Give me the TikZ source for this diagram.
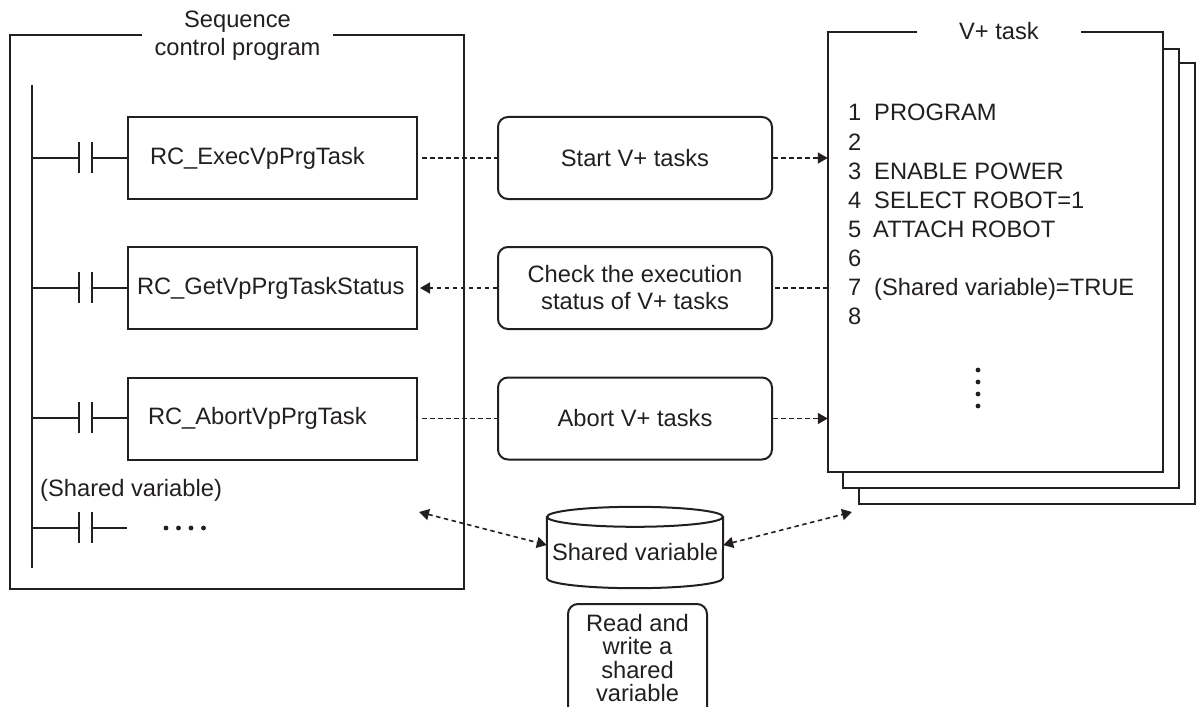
\documentclass[tikz,border=0pt]{standalone}
\usepackage{fontspec}
\setmainfont{Liberation Sans}
\usetikzlibrary{arrows.meta}
\definecolor{ink}{RGB}{35,31,32}
\begin{document}
\begin{tikzpicture}[x=1pt,y=-1pt,
  every node/.style={font=\fontsize{23.7}{28}\selectfont, inner sep=0pt, text=ink},
  frame/.style={draw=ink, line width=2.2pt},
  ladbox/.style={draw=ink, line width=2pt, minimum height=82pt, align=left},
  msgbox/.style={draw=ink, line width=2pt, rounded corners=10pt, minimum width=274pt, minimum height=82pt, align=center},
  rail/.style={draw=ink, line width=2pt},
  dashln/.style={draw=ink, line width=1.6pt, dash pattern=on 4.5pt off 3.5pt},
  tip/.style={-{Triangle[length=10pt,width=11pt]}},
  dtip/.style={{Triangle[length=10pt,width=11pt]}-{Triangle[length=10pt,width=11pt]}},
  dot/.style={fill=ink, circle, minimum size=4.8pt},
]
\useasboundingbox (0,0) rectangle (1198,706);

% ---------- left frame ----------
\node[minimum width=454pt, minimum height=554pt] (seq) at (237,312) {};
\draw[frame] ([xshift=132pt]seq.north west) -- (seq.north west) -- (seq.south west)
  -- (seq.south east) -- (seq.north east) -- ([xshift=-131pt]seq.north east);
\node[align=center] (seqt) at (237.5,36) {Sequence\\control program};

% ladder
\draw[rail] (32,85) -- (32,568);
\node[ladbox, inner xsep=22pt, text width=245pt] (b1) at (272.5,158) {\mbox{RC\_ExecVpPrgTask}};
\node[ladbox, inner xsep=9pt, text width=271pt] (b2) at (272.5,288) {\mbox{RC\_GetVpPrgTaskStatus}};
\node[ladbox, inner xsep=20pt, text width=249pt] (b3) at (272.5,418.5) {\mbox{RC\_AbortVpPrgTask}};

\foreach \yy/\bb in {158/b1, 288/b2, 418/b3} {
  \draw[rail] (32,\yy) -- (79,\yy);
  \draw[rail] (79,\yy-16) -- (79,\yy+15);
  \draw[rail] (92,\yy-16) -- (92,\yy+15);
  \draw[rail] (92,\yy) -- (\bb.west |- 0,\yy);
}
\node[anchor=base west] (shv) at (40,496) {(Shared variable)};
\draw[rail] (32,528) -- (79,528);
\draw[rail] (79,512) -- (79,543);
\draw[rail] (92,512) -- (92,543);
\draw[rail] (92,528) -- (127,528);
\foreach \xx in {166,178.5,191,203.5} { \node[dot] at (\xx,528) {}; }

% ---------- middle boxes ----------
\node[msgbox] (m1) at (635,158) {Start V+ tasks};
\node[msgbox, font=\fontsize{23.7}{27}\selectfont] (m2) at (635,288) {Check the execution\\status of V+ tasks};
\node[msgbox] (m3) at (635,418.5) {Abort V+ tasks};

% ---------- V+ task pages ----------
\node[frame, fill=white, minimum width=336pt, minimum height=441pt] (p3) at (1027,283.5) {};
\node[frame, fill=white, minimum width=336pt, minimum height=439pt] (p2) at (1011,268.5) {};
\node[fill=white, minimum width=335pt, minimum height=440pt] (p1) at (995.5,252) {};
\draw[frame] ([xshift=89pt]p1.north west) -- (p1.north west) -- (p1.south west)
  -- (p1.south east) -- (p1.north east) -- ([xshift=-82pt]p1.north east);
\node[anchor=base] (vpt) at (999,40) {V+ task};

\node[anchor=base west] (n1) at (848,121) {1};
\node[anchor=base west] (t1) at (874,121) {PROGRAM};
\node[anchor=base west] (n2) at (848,150) {2};
\node[anchor=base west] (n3) at (848,179) {3};
\node[anchor=base west] (t3) at (874,179) {ENABLE POWER};
\node[anchor=base west] (n4) at (848,208) {4};
\node[anchor=base west] (t4) at (874,208) {SELECT ROBOT=1};
\node[anchor=base west] (n5) at (848,237) {5};
\node[anchor=base west] (t5) at (873,237) {ATTACH ROBOT};
\node[anchor=base west] (n6) at (848,266) {6};
\node[anchor=base west] (n7) at (848,295) {7};
\node[anchor=base west] (t7) at (874,295) {(Shared variable)=TRUE};
\node[anchor=base west] (n8) at (848,324) {8};
\foreach \yy in {370,382,394,406} { \node[dot] at (978,\yy) {}; }

% ---------- connectors ----------
\draw[dashln] ([xshift=4pt]b1.east) -- (m1.west);
\draw[dashln, tip] (m1.east) -- (m1.east -| p1.west);
\draw[dashln] (m2.east -| p1.west) -- (m2.east);
\draw[dashln, tip] (m2.west) -- ([xshift=2pt]b2.east);
\draw[dashln] ([xshift=4pt]b3.east) -- (m3.west);
\draw[dashln, tip] (m3.east) -- (m3.east -| p1.west);

% ---------- shared variable cylinder ----------
\node[minimum width=176pt, minimum height=71pt] (sv) at (635,552.5) {};
\fill[white] (sv.north west) -- ([yshift=10pt]sv.south west)
  arc[start angle=180, end angle=360, x radius=88pt, y radius=10pt] -- (sv.north east)
  arc[start angle=0, end angle=180, x radius=88pt, y radius=10pt] -- cycle;
\node (svt) at (sv.center) {Shared variable};
\draw[frame, line width=2pt] (sv.north west) -- ([yshift=10pt]sv.south west)
  arc[start angle=180, end angle=360, x radius=88pt, y radius=10pt] -- (sv.north east);
\draw[frame, line width=2pt] (sv.north) ellipse[x radius=88pt, y radius=10pt];

\coordinate (sl) at (419,512);
\coordinate (sr) at (852,512);
\draw[dashln, dtip] (sl) -- ([yshift=7.5pt]sv.west);
\draw[dashln, dtip] ([yshift=7.5pt]sv.east) -- (sr);

% ---------- bottom note ----------
\node[draw=ink, line width=2pt, rounded corners=10pt, minimum width=139pt, minimum height=140pt, anchor=north] (rw) at (637.5,603) {};
\node[align=center, font=\fontsize{23.7}{23.5}\selectfont] (rwt) at (637.5,658) {Read and\\write a\\shared\\variable};
\end{tikzpicture}
\end{document}
